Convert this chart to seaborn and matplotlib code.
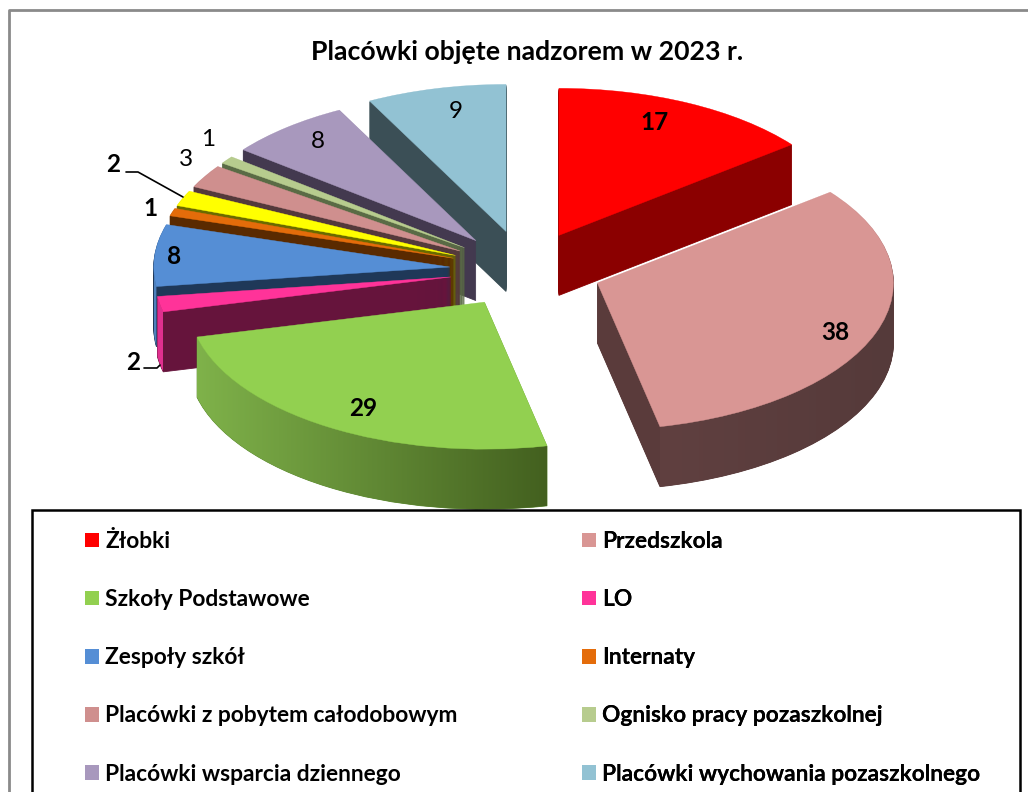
import numpy as np
import seaborn as sns
import matplotlib
matplotlib.use('Agg')
import matplotlib.pyplot as plt
from matplotlib.colors import LinearSegmentedColormap
from matplotlib.lines import Line2D
from matplotlib.patches import Patch, Polygon, Rectangle

# Data
title = 'Placówki objęte nadzorem w 2023 r.'
categories = ['Żłobki', 'Przedszkola', 'Szkoły Podstawowe', 'LO', 'Zespoły szkół', 'Internaty',
              '', 'Placówki z pobytem całodobowym', 'Ognisko pracy pozaszkolnej',
              'Placówki wsparcia dziennego', 'Placówki wychowania pozaszkolnego']
values = [17, 38, 29, 2, 8, 1, 2, 3, 1, 8, 9]

# Colours of top faces and radial walls
top_colors = ['#ff0000', '#d99694', '#92d050', '#ff3399', '#558ed5', '#e46c0a',
              '#ffff00', '#cf8f8e', '#b7cc8e', '#a898bd', '#92c2d3']
wall_colors = ['#8b0000', '#5a3b3b', '#5c8a30', '#66143c', '#1f3858', '#5a2a00',
               '#6a6a00', '#54393b', '#5a6b45', '#43394f', '#3b4f56']
# Outer rim gradient (left colour, right colour)
rim_colors = {1: ('#604040', '#553a3a'), 2: ('#7fb24a', '#43601f'),
              3: ('#e0308f', '#e0308f'), 4: ('#4f81bd', '#4f81bd')}
explode = [0.262, 0.26, 0.258, 0.255, 0.255, 0.255, 0.255, 0.255, 0.255, 0.26, 0.27]
draw_order = [10, 0, 9, 8, 7, 6, 5, 4, 3, 2, 1]

W, H = 1028, 792
CX, CY = 525, 270
RX, RY = 296, 147
DEPTH = 60

sns.set_theme(style='white')
plt.rcParams['font.family'] = ['Lato', 'DejaVu Sans']


def fx(x):
    return x / W


def fy(y):
    return 1 - y / H


fig = plt.figure(figsize=(W / 100, H / 100), dpi=100, facecolor='white')
ax = fig.add_axes([0, 0, 1, 1])
ax.set_axis_off()

# Side walls: the same pie stacked downward one pixel at a time
for d in range(DEPTH, 0, -1):
    wedges, _ = ax.pie(values, explode=explode, colors=wall_colors, startangle=90,
                       counterclock=False, center=(0, -d / RY),
                       wedgeprops={'linewidth': 0.6})
    for i, w in enumerate(wedges):
        w.set_edgecolor(wall_colors[i])
        w.set_zorder(10 * draw_order.index(i) + 1)

# Top faces
tops, _ = ax.pie(values, explode=explode, colors=top_colors, startangle=90,
                 counterclock=False, wedgeprops={'linewidth': 0.3})
for i, w in enumerate(tops):
    w.set_edgecolor(top_colors[i])
    w.set_zorder(10 * draw_order.index(i) + 3)

# Outer rims with a horizontal gradient
for i, (c0, c1) in rim_colors.items():
    w = tops[i]
    t = np.radians(np.linspace(w.theta1, w.theta2, 300))
    t = t[np.sin(t) < 0]
    xs = w.center[0] + w.r * np.cos(t)
    ys = w.center[1] + w.r * np.sin(t)
    low = ys - DEPTH / RY
    pts = np.vstack([np.column_stack([xs, ys]), np.column_stack([xs, low])[::-1]])
    cmap = LinearSegmentedColormap.from_list('rim', [c0, c1])
    im = ax.imshow(np.linspace(0, 1, 256)[None, :], cmap=cmap, aspect='auto',
                   extent=(xs.min(), xs.max(), low.min(), ys.max()),
                   zorder=10 * draw_order.index(i) + 2, interpolation='bilinear')
    im.set_clip_path(Polygon(pts, closed=True, transform=ax.transData))

ax.set_aspect('auto')
ax.set_xlim(-CX / RX, (W - CX) / RX)
ax.set_ylim((CY - H) / RY, CY / RY)

# Value labels
label_pos = [(655, 123), (835, 333), (363, 409), (133, 362), (174, 256), (150, 208),
             (113, 165), (186, 159), (208, 139), (318, 142), (456, 112)]
label_bold = [True, True, True, True, True, True, True, False, False, False, False]
for v, (x, y), b in zip(values, label_pos, label_bold):
    fig.text(fx(x), fy(y), str(v), ha='center', va='center', fontsize=17.5, color='black',
             fontweight='bold' if b else 'normal', zorder=200)

# Leader lines
for xs, ys in [((126, 138, 183), (172, 172, 197)), ((144, 157, 160), (368, 368, 365))]:
    fig.add_artist(Line2D([fx(x) for x in xs], [fy(y) for y in ys], color='black', lw=1.2, zorder=200))

fig.text(fx(527), fy(52), title, ha='center', va='center', fontsize=19.2, fontweight='bold', color='black')

# Chart frame
fig.add_artist(Line2D([fx(9), fx(9), 1], [0, fy(10), fy(10)], color='#8a8a8a', lw=2))

# Legend box, runs off the bottom of the picture
ax.add_patch(Rectangle((fx(32), -0.05), fx(1020) - fx(32), fy(510) + 0.05, transform=fig.transFigure,
                       facecolor='white', edgecolor='black', lw=1.8, zorder=150, clip_on=False))

left_idx = [0, 2, 4, 7, 9]
right_idx = [1, 3, 5, 8, 10]
for idx, x0 in [(left_idx, 85), (right_idx, 582)]:
    handles = [Patch(facecolor=top_colors[i], edgecolor='none', label=categories[i]) for i in idx]
    leg = ax.legend(handles=handles, loc='upper left', bbox_to_anchor=(fx(x0), fy(531)),
                    bbox_transform=fig.transFigure, frameon=False, borderpad=0,
                    borderaxespad=0, handlelength=0.61, handleheight=0.61, handletextpad=0.27,
                    labelspacing=1.63, labelcolor='black', prop={'weight': 'bold', 'size': 16.4})
    leg.set_zorder(160)
    ax.add_artist(leg)

fig.savefig('out.png', dpi=100, facecolor='white')
